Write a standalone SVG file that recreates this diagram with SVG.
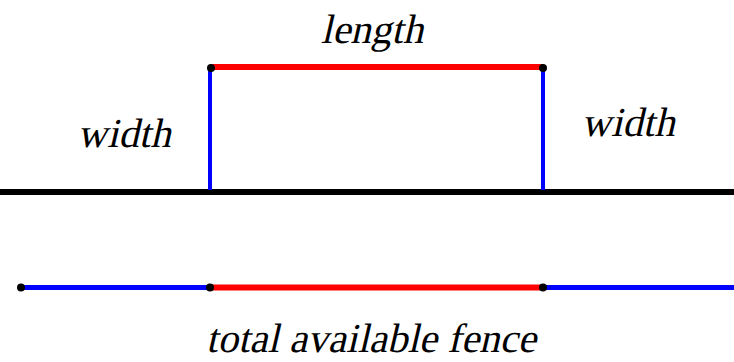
<svg xmlns="http://www.w3.org/2000/svg" width="734" height="362" viewBox="0 0 734 362">
<style>
.red{stroke:#ff0000;stroke-width:6;fill:none}
.blue{stroke:#0000ff;stroke-width:4;fill:none}
.blk{stroke:#000;stroke-width:6;fill:none}
.dot{fill:#000}
</style>
<rect width="734" height="362" fill="#fff"/>
<g id="connectors">
<line class="blk" x1="0" y1="192" x2="734" y2="192"/>
<line class="blue" x1="210" y1="67" x2="210" y2="190"/>
<line class="blue" x1="543" y1="67" x2="543" y2="190"/>
<line class="red" x1="210" y1="67" x2="543" y2="67"/>
<line class="blue" x1="21" y1="287.5" x2="210" y2="287.5" style="stroke-width:5"/>
<line class="red" x1="210" y1="287.5" x2="543" y2="287.5"/>
<line class="blue" x1="543" y1="287.5" x2="734" y2="287.5" style="stroke-width:5"/>
</g>
<g id="dots">
<circle class="dot" cx="211" cy="68" r="4"/>
<circle class="dot" cx="543" cy="68" r="4"/>
<circle class="dot" cx="21" cy="287.5" r="4"/>
<circle class="dot" cx="210" cy="287.5" r="4"/>
<circle class="dot" cx="543" cy="287.5" r="4"/>
</g>
<g id="labels">
<text x="0" y="0" font-family="Liberation Serif" font-size="41" text-anchor="middle" fill="#000" transform="translate(372,43) skewX(-13)">length</text>
<text x="0" y="0" font-family="Liberation Serif" font-size="41" text-anchor="middle" fill="#000" transform="translate(124,147) skewX(-13)">width</text>
<text x="0" y="0" font-family="Liberation Serif" font-size="41" text-anchor="middle" fill="#000" transform="translate(628,136) skewX(-13)">width</text>
<text x="0" y="0" font-family="Liberation Serif" font-size="41" text-anchor="middle" fill="#000" transform="translate(371,352) skewX(-13)">total available fence</text>
</g>
</svg>
